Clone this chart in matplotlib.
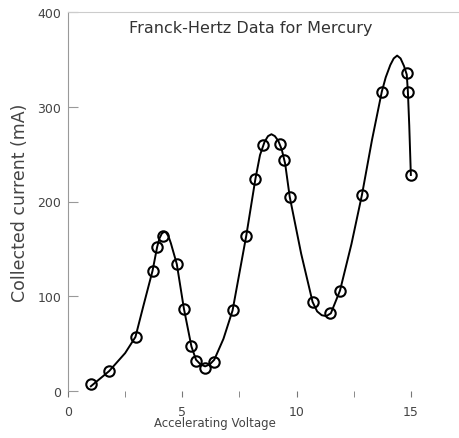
import matplotlib.pyplot as plt

# measured points
volts = [1.0, 1.8, 2.97, 3.7, 3.9, 4.15, 4.76, 5.07, 5.4, 5.6, 6.0, 6.4,
         7.2, 7.8, 8.2, 8.53, 9.27, 9.45, 9.7, 10.7, 11.46, 11.9,
         12.86, 13.73, 14.82, 14.87, 15.0]
current = [7, 21, 57, 127, 152, 164, 134, 87, 47, 32, 24, 31,
           85, 164, 224, 260, 261, 244, 205, 94, 82, 106,
           207, 316, 336, 316, 228]

# hand drawn curve through the data
curve_x = [1.0, 1.8, 2.5, 2.95, 3.3, 3.7, 3.9, 4.0, 4.1, 4.2, 4.3, 4.4, 4.5,
           4.76, 5.07, 5.4, 5.6, 5.8, 6.0, 6.2, 6.4, 6.8, 7.2, 7.8, 8.2, 8.4,
           8.6, 8.75, 8.9, 9.05, 9.2, 9.35, 9.5, 9.7, 10.2, 10.7, 10.9, 11.1,
           11.3, 11.5, 11.9, 12.4, 12.86, 13.3, 13.73, 13.9, 14.1, 14.25,
           14.4, 14.55, 14.7, 14.82, 14.87, 14.93, 15.0]
curve_y = [5, 21, 40, 57, 90, 127, 152, 161, 166, 168, 167, 163, 156,
           134, 87, 47, 33, 28, 26, 28, 33, 55, 85, 164, 224, 249,
           263, 269, 271, 269, 264, 255, 240, 205, 145, 94, 84, 80,
           79, 82, 106, 155, 207, 265, 316, 331, 344, 351,
           354, 351, 343, 334, 316, 280, 228]

fig = plt.figure(figsize=(4.6, 4.39), dpi=100)
ax = fig.add_axes([68/460, 47/439, 1 - 68/460, (392 - 13)/439])

ax.plot(curve_x, curve_y, color='black', lw=1.4, zorder=2)
ax.plot(volts, current, 'o', ms=7.5, mfc='none', mec='black', mew=1.5, zorder=3)

ax.set_xlim(0, 17.15)
ax.set_ylim(0, 400)

ax.spines['bottom'].set_visible(False)
ax.spines['right'].set_visible(False)
ax.spines['left'].set_color('#999999')
ax.spines['top'].set_color('#cccccc')

ax.set_xticks([0, 5, 10, 15])
ax.set_xticks([2.5, 7.5, 12.5], minor=True)
ax.tick_params(axis='x', which='both', direction='out', length=4, color='#777777',
               labelsize=9, labelcolor='#444444', pad=6)
ax.set_yticks([0, 100, 200, 300, 400])
ax.tick_params(axis='y', direction='in', length=7, color='#999999',
               labelsize=9, labelcolor='#444444', pad=5)

ax.text(8.0, 384, 'Franck-Hertz Data for Mercury', ha='center', va='center',
        fontsize=11.5, color='#333333')
ax.set_ylabel('Collected current (mA)', fontsize=12.5, color='#444444', labelpad=6)
fig.text(215/460, 1 - 424/439, 'Accelerating Voltage', ha='center', va='center',
         fontsize=8.5, color='#444444')

fig.savefig('out.png', dpi=100)
